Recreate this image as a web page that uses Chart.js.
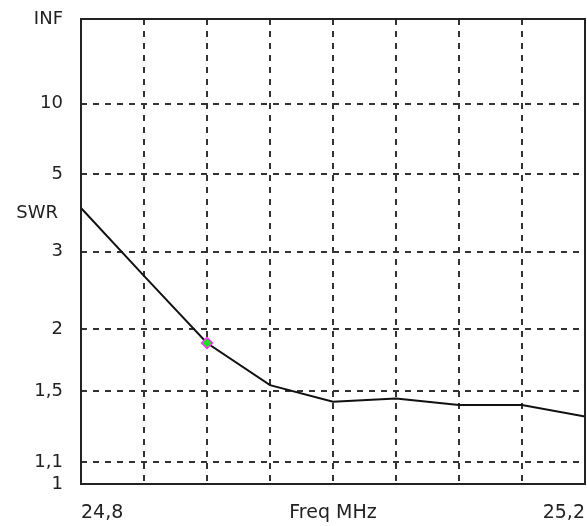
<!DOCTYPE html>
<html>
<head>
<meta charset="utf-8">
<script src="https://cdn.jsdelivr.net/npm/chart.js@4"></script>
<style>
  html, body { margin: 0; padding: 0; background: #fff; }
  #wrap { width: 587px; height: 526px; }
</style>
</head>
<body>
<div id="wrap"><canvas id="swr" width="587" height="526"></canvas></div>
<script>
// frequency (MHz) and SWR
const FREQ = [24.8, 24.85, 24.9, 24.95, 25.0, 25.05, 25.1, 25.15, 25.2]
const SWR  = [3.92, 2.62, 1.87, 1.54, 1.43, 1.45, 1.41, 1.41, 1.34]

// marker at the design frequency
const MARK_FREQ = [24.9]
const MARK_SWR  = [1.87]

const X_TICKS  = [24.8, 24.85, 24.9, 24.95, 25.0, 25.05, 25.1, 25.15, 25.2]
const X_LABELS = ['24,8', '', '', '', 'Freq MHz', '', '', '', '25,2']
const Y_TICKS  = [1, 1.1, 1.5, 2, 3, 5, 10, Infinity]
const Y_LABELS = ['1', '1,1', '1,5', '2', '3', '5', '10', 'INF']

// the SWR axis is drawn as reflection coefficient, 1 at bottom and INF at top
const toRho = s => s === Infinity ? 1 : (s - 1) / (s + 1)

const FONT = 'DejaVu Sans'
const INK  = '#222'

const framePlugin = {
  id: 'frame',
  afterDraw(chart) {
    const { ctx, chartArea: a } = chart
    ctx.save()
    ctx.strokeStyle = INK
    ctx.lineWidth = 2
    ctx.strokeRect(a.left, a.top, a.right - a.left, a.bottom - a.top)
    ctx.fillStyle = INK
    ctx.font = `18px "${FONT}"`
    ctx.textAlign = 'right'
    ctx.textBaseline = 'middle'
    ctx.fillText('SWR', 58, 213)
    ctx.restore()
  }
}

const edge = (ctx, n) => (ctx.index === 0 || ctx.index === n - 1) ? 'rgba(0,0,0,0)' : '#333'

new Chart(document.getElementById('swr'), {
  type: 'line',
  data: {
    datasets: [
      {
        data: FREQ.map((f, i) => ({ x: f, y: toRho(SWR[i]) })),
        borderColor: '#111', borderWidth: 2, pointRadius: 0, tension: 0, order: 1
      },
      {
        data: MARK_FREQ.map((f, i) => ({ x: f, y: toRho(MARK_SWR[i]) })),
        showLine: false, pointStyle: 'rectRot', pointRadius: 5.5, order: 0,
        backgroundColor: '#1ee01e', borderColor: '#ff30ff', borderWidth: 1.5
      }
    ]
  },
  options: {
    responsive: false,
    animation: false,
    layout: { autoPadding: false, padding: { top: 19, right: 2, left: 0, bottom: 0 } },
    plugins: { legend: { display: false }, tooltip: { enabled: false } },
    scales: {
      x: {
        type: 'linear', min: 24.8, max: 25.2,
        afterBuildTicks: s => { s.ticks = X_TICKS.map(v => ({ value: v })) },
        afterFit: s => { s.height = 42; s.paddingLeft = 0; s.paddingRight = 0 },
        grid: { color: c => edge(c, X_TICKS.length), lineWidth: 2, drawTicks: false },
        border: { display: false, dash: [6, 6] },
        ticks: {
          autoSkip: false, maxRotation: 0, align: 'inner', padding: 18, color: INK,
          font: { family: FONT, size: 19 },
          callback: (v, i) => X_LABELS[i]
        }
      },
      y: {
        type: 'linear', min: 0, max: 1,
        afterBuildTicks: s => { s.ticks = Y_TICKS.map(v => ({ value: toRho(v) })) },
        afterFit: s => { s.width = 81; s.paddingTop = 0; s.paddingBottom = 0 },
        grid: { color: c => edge(c, Y_TICKS.length), lineWidth: 2, drawTicks: false },
        border: { display: false, dash: [6, 6] },
        ticks: {
          autoSkip: false, padding: 18, color: INK,
          font: { family: FONT, size: 18 },
          callback: (v, i) => Y_LABELS[i]
        }
      }
    }
  },
  plugins: [framePlugin]
})
</script>
</body>
</html>
